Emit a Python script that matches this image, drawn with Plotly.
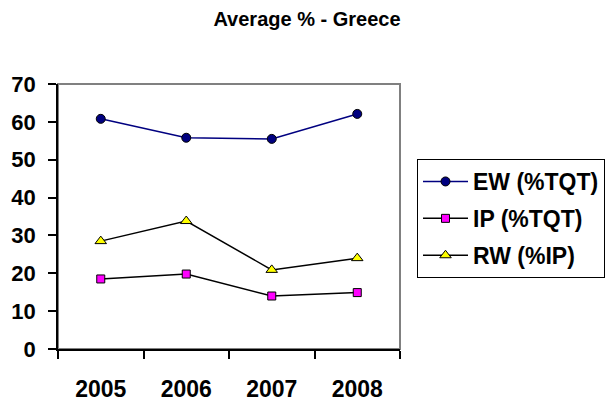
import plotly.graph_objects as go

years = ["2005", "2006", "2007", "2008"]
ew = [60.8, 55.8, 55.5, 62.1]
ip = [18.5, 19.8, 14.0, 14.9]
rw = [28.5, 33.8, 20.9, 24.0]
names = ["EW (%TQT)", "IP (%TQT)", "RW (%IP)"]

FONT = "Liberation Sans, Arial, sans-serif"

fig = go.Figure()
fig.add_trace(go.Scatter(
    x=years, y=ew, name=names[0], mode="lines+markers", legendgroup="a",
    line=dict(color="#000080", width=1.5),
    marker=dict(symbol="circle", size=9, color="#000080", line=dict(color="black", width=1))))
fig.add_trace(go.Scatter(
    x=years, y=ip, name=names[1], mode="lines+markers", legendgroup="b",
    line=dict(color="black", width=1.5),
    marker=dict(symbol="square", size=8, color="#FF00FF", line=dict(color="black", width=1))))
fig.add_trace(go.Scatter(
    x=years, y=rw, name=names[2], mode="lines+markers", legendgroup="c",
    line=dict(color="black", width=1.5),
    marker=dict(symbol="triangle-up", size=10, color="#FFFF00", line=dict(color="black", width=1))))

fig.update_layout(
    width=614, height=401,
    paper_bgcolor="white", plot_bgcolor="white",
    margin=dict(l=50, r=222, t=76, b=60, autoexpand=False),
    title=dict(text="Average % - Greece", x=(307 - 8) / 614, xref="container", xanchor="center",
               y=1 - 11 / 401, yref="container", yanchor="middle",
               font=dict(family=FONT, size=20, color="black", weight="bold")),
    font=dict(family=FONT, color="black"),
    showlegend=True,
    legend=dict(x=(409 - 50) / 342, xanchor="left", y=(341 - 151) / 265, yanchor="top",
                bordercolor="black", borderwidth=1, bgcolor="white",
                font=dict(family=FONT, size=23, color="black", weight="bold"),
                tracegroupgap=4, itemwidth=45, traceorder="grouped"),
    xaxis=dict(type="category", range=[-0.5, 3.5], showgrid=False, automargin=False,
               showline=True, linecolor="black", linewidth=1.5,
               ticks="outside", tickson="boundaries", ticklen=8, tickcolor="black", tickwidth=1.5,
               ticklabelstandoff=19,
               tickfont=dict(family=FONT, size=23, color="black", weight="bold")),
    yaxis=dict(range=[0, 70], dtick=10, showgrid=False, zeroline=False, automargin=False,
               showline=True, linecolor="black", linewidth=1.5,
               ticks="outside", ticklen=8, tickcolor="black", tickwidth=1.5,
               ticklabelstandoff=8,
               tickfont=dict(family=FONT, size=22, color="black", weight="bold")),
    shapes=[dict(type="rect", xref="paper", yref="paper", x0=0, x1=1, y0=0, y1=1,
                 line=dict(color="#808080", width=2), layer="below")],
)

fig.write_html("out.html")
